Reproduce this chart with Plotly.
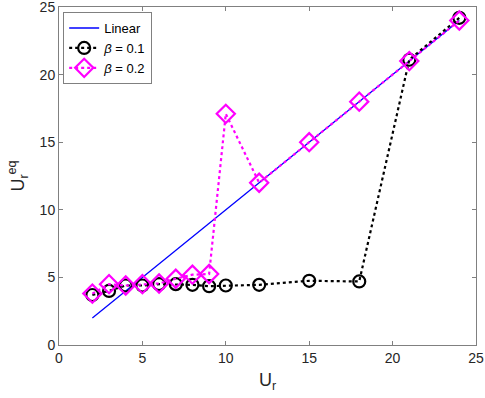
import plotly.graph_objects as go

# data
ur = [2, 3, 4, 5, 6, 7, 8, 9, 10, 12, 15, 18, 21, 24]
linear = [2, 3, 4, 5, 6, 7, 8, 9, 10, 12, 15, 18, 21, 24]
beta01 = [3.7, 4.0, 4.4, 4.4, 4.5, 4.5, 4.45, 4.35, 4.4, 4.45, 4.75, 4.7, 21.1, 24.2]
beta02 = [3.8, 4.5, 4.4, 4.5, 4.55, 4.9, 5.2, 5.25, 17.1, 12.0, 15.0, 18.0, 21.0, 24.0]
xticks = [0, 5, 10, 15, 20, 25]
yticks = [0, 5, 10, 15, 20, 25]

font = 'Liberation Sans, Arial, sans-serif'
axcol = '#808080'

fig = go.Figure()
fig.add_trace(go.Scatter(
    x=ur, y=linear, name='Linear', mode='lines',
    line=dict(color='#0000ff', width=1.3)
))
fig.add_trace(go.Scatter(
    x=ur, y=beta01, name='<i>β</i> = 0.1', mode='lines+markers',
    line=dict(color='black', width=2.2, dash='dot'),
    marker=dict(symbol='circle-open', size=12, color='black', line=dict(width=2.2))
))
fig.add_trace(go.Scatter(
    x=ur, y=beta02, name='<i>β</i> = 0.2', mode='lines+markers',
    line=dict(color='#ff00ff', width=2.2, dash='dot'),
    marker=dict(symbol='diamond-open', size=14, color='#ff00ff', line=dict(width=2.2))
))

axis_common = dict(
    showgrid=False, zeroline=False, showline=True, mirror='ticks',
    linecolor=axcol, linewidth=1, ticks='inside', ticklen=4,
    tickcolor=axcol, tickfont=dict(family=font, size=14, color='#262626'),
    automargin=False, ticklabeloverflow='allow',
)

fig.update_layout(
    width=485, height=398,
    margin=dict(l=59, r=9, t=7, b=53),
    paper_bgcolor='white', plot_bgcolor='white',
    font=dict(family=font, color='#262626'),
    xaxis=dict(range=[0, 25], tickvals=xticks,
               title=dict(text='U<sub>r</sub>', font=dict(size=18), standoff=8),
               **axis_common),
    yaxis=dict(range=[0, 25], tickvals=yticks,
               title=dict(text='U<sub>r</sub><sup>eq</sup>', font=dict(size=18), standoff=10),
               **axis_common),
    legend=dict(x=0.01, y=0.985, xanchor='left', yanchor='top',
                bgcolor='white', bordercolor=axcol, borderwidth=1,
                font=dict(family=font, size=13, color='black'),
                tracegroupgap=0, itemwidth=30),
    showlegend=True,
)

# drop the default body margin so the figure sits at the page corner
fig.write_html('out.html', config={'displayModeBar': False},
               post_script="document.body.style.margin='0';")
